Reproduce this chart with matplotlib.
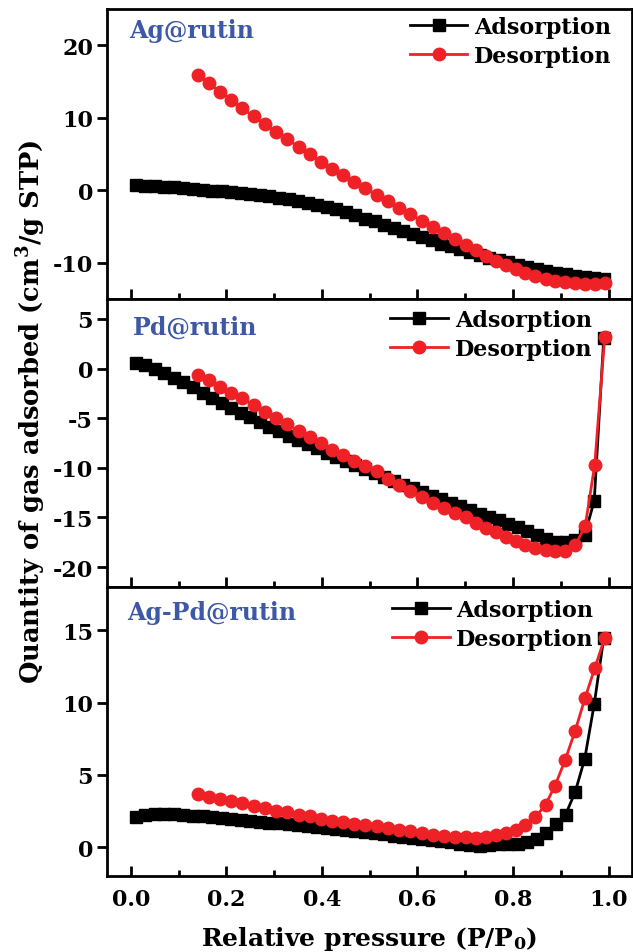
import matplotlib
matplotlib.use("Agg")
import matplotlib.pyplot as plt
from matplotlib.ticker import MultipleLocator, FixedLocator

plt.rcParams['font.family'] = ['DejaVu Serif']
plt.rcParams['font.weight'] = 'bold'
plt.rcParams['mathtext.fontset'] = 'dejavuserif'
plt.rcParams['mathtext.default'] = 'bf'
plt.rcParams['axes.unicode_minus'] = False

# ---------------- data ----------------
ads_x = [0.01, 0.03, 0.05, 0.07, 0.09, 0.11, 0.13, 0.15, 0.17, 0.19,
         0.21, 0.23, 0.25, 0.27, 0.29, 0.31, 0.33, 0.35, 0.37, 0.39,
         0.41, 0.43, 0.45, 0.47, 0.49, 0.51, 0.53, 0.55, 0.57, 0.59,
         0.61, 0.63, 0.65, 0.67, 0.69, 0.71, 0.73, 0.75, 0.77, 0.79,
         0.81, 0.83, 0.85, 0.87, 0.89, 0.91, 0.93, 0.95, 0.97, 0.99]

des_x = [0.140, 0.163, 0.187, 0.210, 0.233, 0.257, 0.280, 0.304, 0.327, 0.351,
         0.374, 0.398, 0.421, 0.445, 0.468, 0.491, 0.515, 0.538, 0.562, 0.585,
         0.609, 0.632, 0.655, 0.679, 0.702, 0.723, 0.744, 0.765, 0.785, 0.806,
         0.826, 0.847, 0.868, 0.888, 0.909, 0.930, 0.951, 0.971, 0.992]

# Ag@rutin
ag_ads = [0.70, 0.62, 0.55, 0.47, 0.38, 0.28, 0.18, 0.07, -0.05, -0.15,
          -0.25, -0.38, -0.52, -0.67, -0.83, -1.00, -1.20, -1.45, -1.70, -2.00,
          -2.30, -2.65, -3.00, -3.40, -3.90, -4.30, -4.75, -5.20, -5.60, -6.05,
          -6.50, -6.90, -7.35, -7.75, -8.15, -8.55, -8.95, -9.30, -9.65, -9.95,
          -10.30, -10.60, -10.90, -11.15, -11.40, -11.60, -11.80, -11.95, -12.10, -12.30]
ag_des = [15.9, 14.76, 13.6, 12.45, 11.3, 10.2, 9.1, 8.07, 7.05, 6.0,
          4.98, 3.93, 3.0, 2.07, 1.15, 0.25, -0.6, -1.52, -2.43, -3.3,
          -4.2, -5.07, -5.9, -6.7, -7.5, -8.3, -9.0, -9.7, -10.3, -10.8,
          -11.4, -11.8, -12.2, -12.5, -12.7, -12.8, -12.9, -12.9, -12.8]

# Pd@rutin
pd_ads = [0.60, 0.35, -0.05, -0.50, -0.95, -1.40, -1.90, -2.50, -3.00, -3.50,
          -4.00, -4.45, -4.90, -5.40, -5.85, -6.30, -6.75, -7.20, -7.65, -8.05,
          -8.50, -8.90, -9.30, -9.70, -10.10, -10.50, -10.90, -11.30, -11.70, -12.00,
          -12.40, -12.80, -13.10, -13.50, -13.85, -14.20, -14.60, -14.95, -15.30, -15.65,
          -16.00, -16.40, -16.80, -17.20, -17.45, -17.45, -17.25, -16.80, -13.30, 3.10]
pd_des = [-0.67, -1.17, -1.85, -2.45, -3.0, -3.7, -4.4, -5.0, -5.6, -6.3,
          -6.9, -7.5, -8.2, -8.7, -9.3, -9.8, -10.3, -11.1, -11.7, -12.3,
          -12.9, -13.5, -14.0, -14.5, -15.0, -15.6, -16.1, -16.5, -17.0, -17.4,
          -17.8, -18.1, -18.3, -18.35, -18.35, -17.8, -15.9, -9.7, 3.2]

# Ag-Pd@rutin
agpd_ads = [2.05, 2.20, 2.28, 2.30, 2.28, 2.23, 2.18, 2.12, 2.06, 2.00,
            1.94, 1.88, 1.82, 1.76, 1.70, 1.64, 1.58, 1.52, 1.45, 1.38,
            1.31, 1.24, 1.17, 1.10, 1.03, 0.95, 0.88, 0.80, 0.72, 0.64,
            0.56, 0.48, 0.40, 0.32, 0.24, 0.14, 0.10, 0.15, 0.18, 0.18,
            0.20, 0.32, 0.55, 0.95, 1.60, 2.25, 3.80, 6.10, 9.90, 14.50]
agpd_des = [3.68, 3.5, 3.33, 3.17, 3.03, 2.87, 2.71, 2.52, 2.41, 2.25,
            2.14, 1.95, 1.83, 1.72, 1.6, 1.54, 1.45, 1.33, 1.21, 1.08,
            0.97, 0.85, 0.8, 0.69, 0.69, 0.64, 0.69, 0.85, 0.99, 1.21,
            1.54, 2.07, 2.94, 4.25, 6.02, 8.04, 10.34, 12.37, 14.48]

names = ["Ag@rutin", "Pd@rutin", "Ag-Pd@rutin"]
ads_series = [ag_ads, pd_ads, agpd_ads]
des_series = [ag_des, pd_des, agpd_des]
ylims = [(-15, 25), (-22, 7), (-2, 18)]
yticks = [[-10, 0, 10, 20], [-20, -15, -10, -5, 0, 5], [0, 5, 10, 15]]
xticks = [0.0, 0.2, 0.4, 0.6, 0.8, 1.0]
xticklabels = ["0.0", "0.2", "0.4", "0.6", "0.8", "1.0"]
legend_labels = ["Adsorption", "Desorption"]

# ---------------- layout ----------------
W, H = 633, 953
fig = plt.figure(figsize=(W / 100, H / 100), dpi=100)
left = 107 / W
width = (631.5 - 107) / W
panel_px = [(10, 300), (300, 588), (588, 877)]
legend_anchor = [(0.962, 0.975), (0.925, 0.965), (0.928, 0.958)]
title_pos = [(0.043, 0.903), (0.050, 0.880), (0.038, 0.888)]

RED = '#EE2127'
BLUE = '#3D58A7'
axes = []
for i in range(3):
    top_px, bot_px = panel_px[i]
    ax = fig.add_axes([left, 1 - bot_px / H, width, (bot_px - top_px) / H])
    axes.append(ax)
    ax.plot(ads_x, ads_series[i], color='black', lw=2.0, marker='s',
            markersize=8, label=legend_labels[0], zorder=3)
    ax.plot(des_x, des_series[i], color=RED, lw=2.0, marker='o',
            markersize=9, label=legend_labels[1], zorder=4)
    ax.set_xlim(-0.05, 1.048)
    ax.set_ylim(*ylims[i])
    ax.yaxis.set_major_locator(FixedLocator(yticks[i]))
    ax.xaxis.set_major_locator(FixedLocator(xticks))
    ax.xaxis.set_minor_locator(MultipleLocator(0.1))
    for sp in ax.spines.values():
        sp.set_linewidth(2.0)
    ax.tick_params(axis='y', which='major', direction='out', length=7,
                   width=2.0, labelsize=16, pad=3, right=False)
    ax.tick_params(axis='x', which='major', direction='in', length=7,
                   width=2.0, labelsize=16, pad=9, top=False)
    ax.tick_params(axis='x', which='minor', direction='in', length=4,
                   width=2.0, top=False)
    if i < 2:
        ax.tick_params(axis='x', which='both', labelbottom=False)
    else:
        ax.set_xticklabels(xticklabels)
        ax.set_xlabel(r"Relative pressure (P/P$_\mathbf{0}$)", fontsize=18,
                      fontweight='bold', labelpad=10)
    for lab in ax.get_xticklabels() + ax.get_yticklabels():
        lab.set_fontweight('bold')
    ax.text(title_pos[i][0], title_pos[i][1], names[i], transform=ax.transAxes,
            color=BLUE, fontsize=17, fontweight='bold', ha='left', va='baseline')
    leg = ax.legend(loc='upper right', bbox_to_anchor=legend_anchor[i],
                    frameon=False, fontsize=16, handlelength=2.6,
                    handletextpad=0.3, labelspacing=0.3, borderpad=0,
                    borderaxespad=0)
    for t in leg.get_texts():
        t.set_fontweight('bold')

fig.text(31 / W, 1 - 412 / H, r"Quantity of gas adsorbed (cm$^\mathbf{3}$/g STP)",
         rotation=90, ha='center', va='center', fontsize=18.5, fontweight='bold')

fig.savefig("out.png", dpi=100)
